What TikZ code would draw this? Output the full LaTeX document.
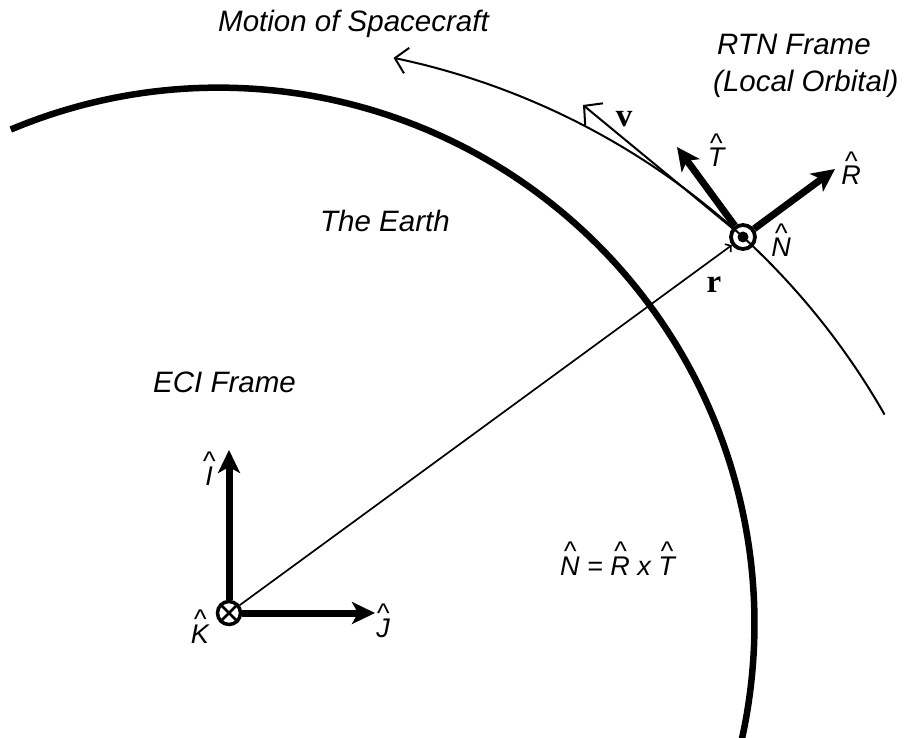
\documentclass[tikz,border=0pt]{standalone}
\usepackage{fontspec}
\setmainfont{Liberation Sans}
\newfontfamily\vecfont{Liberation Serif}
\usetikzlibrary{arrows.meta}
\newcommand\hatl[1]{\begin{tabular}[b]{@{}c@{}}\textasciicircum\\[-0.66em]#1\end{tabular}}
\tikzset{
  lbl/.style={font=\fontsize{29.5}{34}\selectfont\itshape, inner sep=0pt, anchor=base west},
  hatlbl/.style={font=\fontsize{27}{32}\selectfont\itshape, inner sep=0pt, anchor=base},
  veclbl/.style={font=\fontsize{33}{36}\selectfont\vecfont\bfseries, inner sep=0pt, anchor=base},
  thickvec/.style={line width=7pt, -{Stealth[length=23pt,width=22pt,inset=6pt]}},
  thinline/.style={line width=2pt},
  barb/.style={line width=2pt, -{Straight Barb[length=13pt,width=28pt,line width=2pt]}},
  earth/.style={line width=6.5pt},
}
\begin{document}
\begin{tikzpicture}[x=1pt,y=-1pt]
\useasboundingbox (0,0) rectangle (908,738);
% Earth
\draw[earth] plot[domain=112.8:-13,samples=120] ({218.5+536*cos(\x)},{623.6-536*sin(\x)});
% orbit
\draw[thinline, {Straight Barb[length=12pt,width=26pt,line width=2pt]}-] plot[domain=78.3:29.7,samples=120] ({244+737.5*cos(\x)},{780-737.5*sin(\x)});
% frames
\node[circle, draw, line width=3.5pt, minimum size=23pt, inner sep=0pt] (K) at (229,613) {};
\draw[line width=2.8pt] (K.45) -- (K.225) (K.135) -- (K.315);
\node[circle, draw, line width=3.8pt, minimum size=24pt, inner sep=0pt] (S) at (743,237) {};
\fill (S) circle (5.5pt);
\coordinate (Itip) at (229,450);
\coordinate (Jtip) at (375,613);
\coordinate (Rtip) at (835,169);
\coordinate (Ttip) at (677,147);
\coordinate (vtip) at (583,105);
\draw[thickvec] (K) -- (Itip);
\draw[thickvec] (K) -- (Jtip);
\draw[thickvec] (S) -- (Rtip);
\draw[thickvec] (S) -- (Ttip);
\draw[line width=1.7pt, -{Straight Barb[length=4pt,width=10pt,line width=1.6pt]}] (K) -- (S);
\draw[barb] (S) -- (vtip);
% labels
\node[lbl] (motion) at (218,32) {Motion of Spacecraft};
\node[lbl] (rtn) at (717,55) {RTN Frame};
\node[lbl] (loc) at (713,92) {(Local Orbital)};
\node[lbl] (earthlbl) at (320,232) {The Earth};
\node[lbl] (eci) at (153,392) {ECI Frame};
\node[hatlbl] (Ilbl) at (209,485) {\hatl{I}};
\node[hatlbl] (Jlbl) at (383,637) {\hatl{J}};
\node[hatlbl] (Klbl) at (200,643) {\hatl{K}};
\node[hatlbl] (Tlbl) at (716,167) {\hatl{T}};
\node[hatlbl] (Rlbl) at (851,185) {\hatl{R}};
\node[hatlbl] (Nlbl) at (781,257) {\hatl{N}};
\node[hatlbl, anchor=base west] (eq) at (560,575) {\hatl{N} = \hatl{R} x \hatl{T}};
\node[veclbl] (vlbl) at (624,127) {v};
\node[veclbl] (rlbl) at (714,292) {r};
\end{tikzpicture}
\end{document}
